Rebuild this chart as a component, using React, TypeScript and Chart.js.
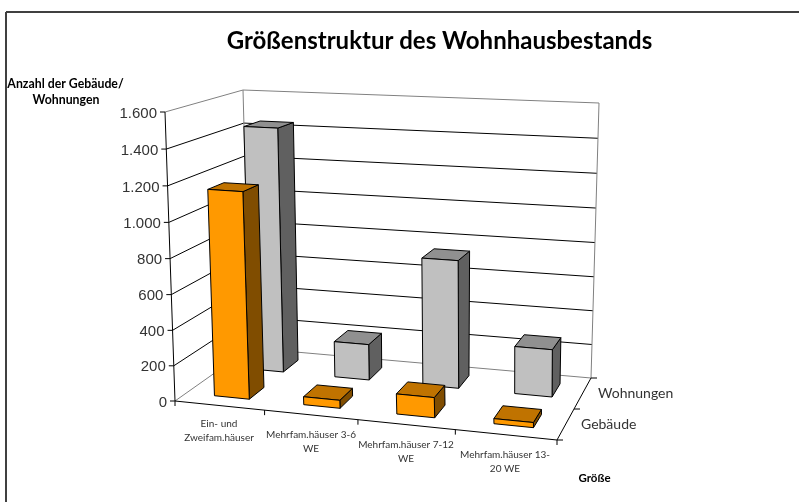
import React, { useEffect, useRef } from "react";
import { Chart, registerables } from "chart.js";

Chart.register(...registerables);

const categories = [["Ein- und", "Zweifam.häuser"], ["Mehrfam.häuser 3-6", "WE"], ["Mehrfam.häuser 7-12", "WE"], ["Mehrfam.häuser 13-", "20 WE"]];
const seriesNames = ["Gebäude", "Wohnungen"];
const gebaeude = [1165, 45, 112, 28];
const wohnungen = [1440, 210, 740, 272];
const yTicks = [0, 200, 400, 600, 800, 1000, 1200, 1400, 1600];
const orangeFaces = ["#FF9900", "#804D00", "#C07300"];
const greyFaces = ["#C0C0C0", "#606060", "#909090"];
const title = "Größenstruktur des Wohnhausbestands";
const yTitle = ["Anzahl der Gebäude/", "Wohnungen"];
const xTitle = "Größe";

type P = [number, number];
const CUBE: Record<string, P> = {
  fl0: [175, 401], fr0: [557, 440], bl0: [250, 348], br0: [591, 378],
  fl1: [165, 112], fr1: [549, 132], bl1: [243, 90], br1: [599, 103],
};
const warp = (t: number, k: number) => t / (1 + k * (1 - t));
function project(u0: number, v: number, w0: number): P {
  const u = warp(u0, 0.088);
  const w = warp(w0, 0.03);
  const lerp = (a: P, b: P, t: number): P => [a[0] + (b[0] - a[0]) * t, a[1] + (b[1] - a[1]) * t];
  const f0 = lerp(CUBE.fl0, CUBE.fr0, u);
  const b0 = lerp(CUBE.bl0, CUBE.br0, u);
  const f1 = lerp(CUBE.fl1, CUBE.fr1, u);
  const b1 = lerp(CUBE.bl1, CUBE.br1, u);
  return lerp(lerp(f0, b0, v), lerp(f1, b1, v), w);
}

const BAR_FRACTION = 0.395;
const BAR_SHIFT = 0.005;
const DEPTH_FRACTION = 0.43;
const DEPTH_SHIFT = 0.01;

const chart3d = {
  id: "chart3d",
  beforeDatasetsDraw(chart: any) {
    const { ctx } = chart;
    const xs = chart.scales.x;
    const ys = chart.scales.y;
    const uOf = (i: number) => (xs.getPixelForValue(i) - xs.left) / xs.width;
    const wOf = (val: number) => (ys.bottom - ys.getPixelForValue(val)) / ys.height;

    const line = (a: P, b: P, color: string, width = 1) => {
      ctx.strokeStyle = color;
      ctx.lineWidth = width;
      ctx.beginPath();
      ctx.moveTo(a[0], a[1]);
      ctx.lineTo(b[0], b[1]);
      ctx.stroke();
    };
    const poly = (pts: P[], fill: string) => {
      ctx.fillStyle = fill;
      ctx.strokeStyle = "#000000";
      ctx.lineWidth = 1;
      ctx.lineJoin = "round";
      ctx.beginPath();
      pts.forEach((p, i) => (i ? ctx.lineTo(p[0], p[1]) : ctx.moveTo(p[0], p[1])));
      ctx.closePath();
      ctx.fill();
      ctx.stroke();
    };
    const text = (s: string, x: number, y: number, font: string, color: string, align: CanvasTextAlign) => {
      ctx.font = font;
      ctx.fillStyle = color;
      ctx.textAlign = align;
      ctx.textBaseline = "middle";
      ctx.fillText(s, x, y);
    };

    ctx.save();
    // walls and grid
    ys.ticks.forEach((t: any) => {
      const w = wOf(t.value);
      const c = t.value === 0 || t.value === 1600 ? "#808080" : "#000000";
      line(project(0, 0, w), project(0, 1, w), c);
      line(project(0, 1, w), project(1, 1, w), c);
      const p = project(0, 0, w);
      line([p[0] - 5, p[1]], p, "#000000");
      text(t.label, p[0] - 8, p[1] + 1.5, "15px 'Liberation Sans'", "#333333", "right");
    });
    line(project(0, 1, 0), project(0, 1, 1), "#808080");
    line(project(1, 1, 0), project(1, 1, 1), "#808080");
    line(project(0, 0, 0), project(0, 0, 1), "#000000");
    line(project(0, 0, 0), project(1, 0, 0), "#000000");
    line(project(1, 0, 0), project(1, 1, 0), "#000000");

    // x ticks
    const n = categories.length;
    for (let i = 0; i <= n; i++) {
      const p = project(i / n, 0, 0);
      line(p, [p[0], p[1] + 5], "#000000");
    }
    // depth ticks
    const m = chart.data.datasets.length;
    for (let j = 0; j <= m; j++) {
      const p = project(1, j / m, 0);
      line(p, [p[0] + 6, p[1]], "#000000");
    }

    // bars back-to-front
    for (let d = m - 1; d >= 0; d--) {
      const ds = chart.data.datasets[d];
      const faces = ds.faces as string[];
      const v0 = (d + 0.5 - DEPTH_FRACTION / 2) / m + DEPTH_SHIFT;
      const v1 = (d + 0.5 + DEPTH_FRACTION / 2) / m + DEPTH_SHIFT;
      ds.data.forEach((val: number, i: number) => {
        const half = (BAR_FRACTION / 2) / n;
        const u0 = uOf(i) - half + BAR_SHIFT;
        const u1 = uOf(i) + half + BAR_SHIFT;
        const w = wOf(val);
        const a = project(u0, v0, 0), b = project(u1, v0, 0), c = project(u1, v0, w), e = project(u0, v0, w);
        const f = project(u1, v1, 0), g = project(u1, v1, w), h = project(u0, v1, w);
        poly([b, f, g, c], faces[1]);
        poly([e, c, g, h], faces[2]);
        poly([a, b, c, e], faces[0]);
      });
    }

    // texts
    const catFont = "10px Lato";
    const catPos: P[] = [[219, 424], [311, 435], [406, 445], [505, 455]];
    categories.forEach((lines, i) => {
      lines.forEach((s, k) => {
        text(s, catPos[i][0], catPos[i][1] + k * 13.5, catFont, "#333333", "center");
      });
    });
    text(seriesNames[1], 598, 393, "14px Lato", "#333333", "left");
    text(seriesNames[0], 581, 424, "14px Lato", "#333333", "left");
    text(title, 439.5, 41, "bold 24px Lato", "#000000", "center");
    text(yTitle[0], 65.5, 84, "bold 12.3px Lato", "#000000", "center");
    text(yTitle[1], 66, 100, "bold 12.3px Lato", "#000000", "center");
    text(xTitle, 594.5, 478, "bold 11.5px Lato", "#000000", "center");

    // frame: only the top and left edges fall inside the picture
    line([6, 12], [799, 12], "#404040", 2);
    line([6, 12], [6, 502], "#404040", 2);
    ctx.restore();
    return false;
  },
};

export default function App() {
  const ref = useRef<HTMLCanvasElement>(null);
  useEffect(() => {
    const chart = new Chart(ref.current!, {
      type: "bar",
      data: {
        labels: categories as any,
        datasets: [
          { label: seriesNames[0], data: gebaeude, backgroundColor: orangeFaces[0], faces: orangeFaces } as any,
          { label: seriesNames[1], data: wohnungen, backgroundColor: greyFaces[0], faces: greyFaces } as any,
        ],
      },
      options: {
        animation: false,
        responsive: false,
        layout: { padding: { left: 175, right: 242, top: 112, bottom: 101 } },
        plugins: { legend: { display: false }, tooltip: { enabled: false } },
        scales: {
          x: { display: false, grid: { display: false } },
          y: {
            display: false,
            min: yTicks[0],
            max: yTicks[yTicks.length - 1],
            afterBuildTicks: (axis: any) => {
              axis.ticks = yTicks.map((value) => ({ value }));
            },
            ticks: { callback: (v: any) => Number(v).toLocaleString("de-DE") },
            grid: { display: false },
          },
        },
      },
      plugins: [chart3d],
    });
    return () => chart.destroy();
  }, []);
  return (
    <div style={{ position: "absolute", left: 0, top: 0, width: 799, height: 502, background: "#fff" }}>
      <canvas ref={ref} width={799} height={502} style={{ display: "block" }} />
    </div>
  );
}
